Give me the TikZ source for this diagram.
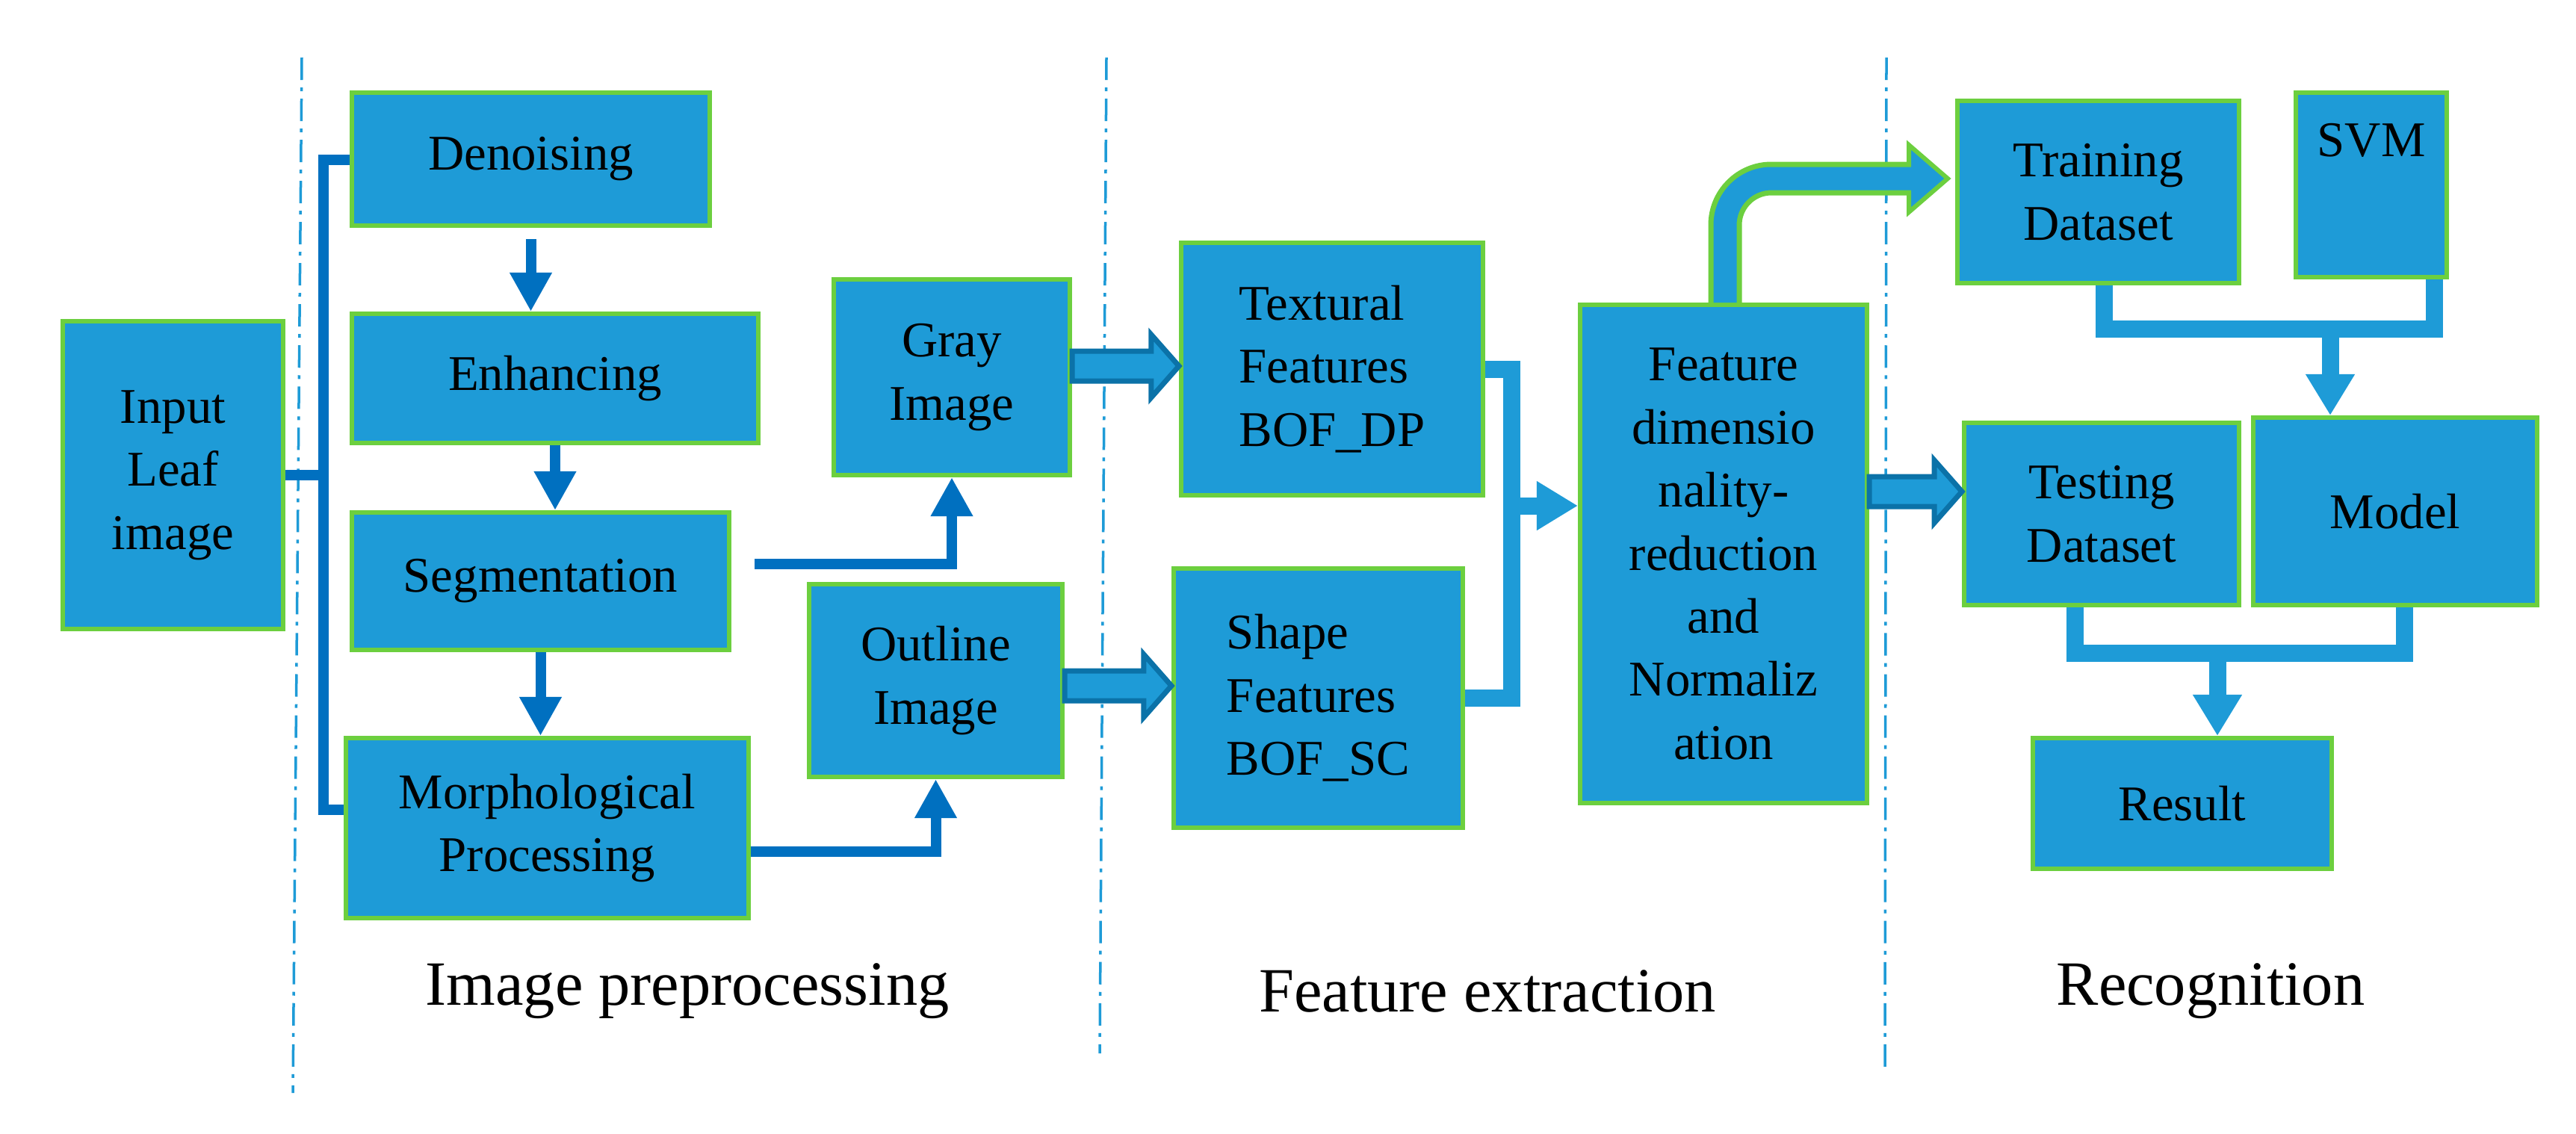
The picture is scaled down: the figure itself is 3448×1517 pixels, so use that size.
\documentclass[tikz,border=0pt]{standalone}
\usepackage{fontspec}
\setmainfont{Liberation Serif}
\usetikzlibrary{arrows.meta,calc}
\definecolor{boxblue}{HTML}{1E9BD7}
\definecolor{bgreen}{HTML}{6CCF3F}
\definecolor{dblue}{HTML}{0070C0}
\definecolor{fblue}{HTML}{0B72A8}
\tikzset{
  box/.style={draw=bgreen,fill=boxblue,line width=0.06cm,inner sep=0pt,align=center,
    font=\fontsize{19}{24}\selectfont},
  darr/.style={draw=dblue,line width=0.14cm,-{Triangle[width=0.53cm,length=0.52cm]}},
  dline/.style={draw=dblue,line width=0.14cm},
  conn/.style={draw=boxblue,line width=0.23cm},
  carr/.style={draw=boxblue,line width=0.23cm,-{Triangle[width=0.62cm,length=0.55cm]}},
  fat/.style={fill=boxblue,draw=fblue,line width=0.07cm},
  sep/.style={draw=boxblue,line width=0.035cm,dash pattern=on 0.3cm off 0.1cm on 0.05cm off 0.1cm},
  lab/.style={font=\fontsize{24}{28}\selectfont}
}
\newcommand\bx[7][]{\node[box,#1,minimum width={(#5-#3-6)*0.01cm},minimum height={(#6-#4-6)*0.01cm}]
  (#2) at ({(#3+#5)/2},{(#4+#6)/2}) {#7};}
\newcommand\fatarr[3]{\draw[fat] let \p1=(#1.east), \p2=(#2.west) in
  (\x1,{-#3*0.01cm+0.2cm}) -- ({\x2-0.37cm},{-#3*0.01cm+0.2cm}) -- ({\x2-0.37cm},{-#3*0.01cm+0.42cm})
  -- (\x2,{-#3*0.01cm}) -- ({\x2-0.37cm},{-#3*0.01cm-0.42cm}) -- ({\x2-0.37cm},{-#3*0.01cm-0.2cm})
  -- (\x1,{-#3*0.01cm-0.2cm}) -- cycle;}
\begin{document}
\begin{tikzpicture}[x=0.01cm,y=-0.01cm]
\useasboundingbox (0,0) rectangle (3448,1517);
% separators
\coordinate (s1a) at (404,77); \coordinate (s1b) at (392,1463);
\coordinate (s2a) at (1481,77); \coordinate (s2b) at (1472,1410);
\coordinate (s3a) at (2525,77); \coordinate (s3b) at (2523,1430);
\draw[sep] (s1a) -- (s1b);
\draw[sep] (s2a) -- (s2b);
\draw[sep] (s3a) -- (s3b);
% boxes
\bx{inp}{81}{427}{382}{845}{Input\\Leaf\\image}
\bx{den}{468}{121}{953}{305}{Denoising}
\bx{enh}{468}{417}{1018}{596}{Enhancing}
\bx{seg}{468}{683}{979}{873}{Segmentation}
\bx{mor}{460}{985}{1005}{1232}{Morphological\\Processing}
\bx{gray}{1113}{371}{1435}{639}{Gray\\Image}
\bx{out}{1080}{779}{1425}{1043}{Outline\\Image}
\bx[align=left]{tex}{1578}{322}{1988}{666}{Textural\\Features\\BOF\_DP}
\bx[align=left]{sha}{1568}{758}{1961}{1111}{Shape\\Features\\BOF\_SC}
\bx{feat}{2112}{405}{2502}{1078}{Feature\\dimensio\\nality-\\reduction\\and\\Normaliz\\ation}
\bx{train}{2617}{132}{3000}{382}{Training\\Dataset}
\bx[text depth=1.2cm]{svm}{3070}{121}{3278}{374}{SVM}
\bx{test}{2626}{563}{3000}{813}{Testing\\Dataset}
\bx{model}{3013}{556}{3399}{813}{Model}
\bx{res}{2718}{985}{3124}{1166}{Result}
% left bracket
\coordinate (bt) at (433,214); \coordinate (bb) at (433,1084);
\draw[dline] (den.west |- bt) -- (bt) -- (bb) -- (mor.west |- bb);
\draw[dline] (inp.east) -- (inp.east -| bt);
% chain arrows
\draw[darr] ([yshift=-0.15cm]den.south) -- (den.south |- enh.north);
\draw[darr] (enh.south) -- (enh.south |- seg.north);
\draw[darr] (seg.south) -- (seg.south |- mor.north);
\coordinate (sg) at (1010,755);
\draw[darr] (sg) -| (gray.south);
\coordinate (mo) at (1005,1140);
\draw[darr] (mo) -| (out.south);
% fat arrows
\fatarr{gray}{tex}{490}
\fatarr{out}{sha}{918}
\fatarr{feat}{test}{658}
% merge to feature
\coordinate (j) at (2023,677);
\draw[conn] (tex.east) -| (j);
\draw[conn] (sha.east) -| (j);
\draw[carr] ([xshift=-0.11cm]j) -- (j -| feat.west);
% green curved arrow
\coordinate (g1) at (2309,410); \coordinate (g2) at (2309,239); \coordinate (g3) at (2562,239);
\coordinate (gt) at (2607,239);
\draw[draw=bgreen,line width=0.45cm,rounded corners=0.62cm] (g1) -- (g2) -- (g3);
\draw[fill=boxblue,draw=bgreen,line width=0.06cm] (2555,194) -- (gt) -- (2555,284) -- cycle;
\draw[draw=boxblue,line width=0.31cm,rounded corners=0.62cm] (2309,405) -- (g2) -- (2566,239);
% recognition merges
\coordinate (t1) at (2816,440); \coordinate (t2) at (3258,440); \coordinate (t3) at (3119,440);
\draw[conn] (train.south -| t1) -- (t1) -- (t2) -- (svm.south -| t2);
\draw[carr] (t3) -- (t3 |- model.north);
\coordinate (r1) at (2777,874); \coordinate (r2) at (3218,874); \coordinate (r3) at (2968,874);
\draw[conn] (test.south -| r1) -- (r1) -- (r2) -- (model.south -| r2);
\draw[carr] (r3) -- (r3 |- res.north);
% section labels
\node[lab] (l1) at (920,1327) {Image preprocessing};
\node[lab] (l2) at (1991,1327) {Feature extraction};
\node[lab] (l3) at (2959,1327) {Recognition};
\end{tikzpicture}
\end{document}
